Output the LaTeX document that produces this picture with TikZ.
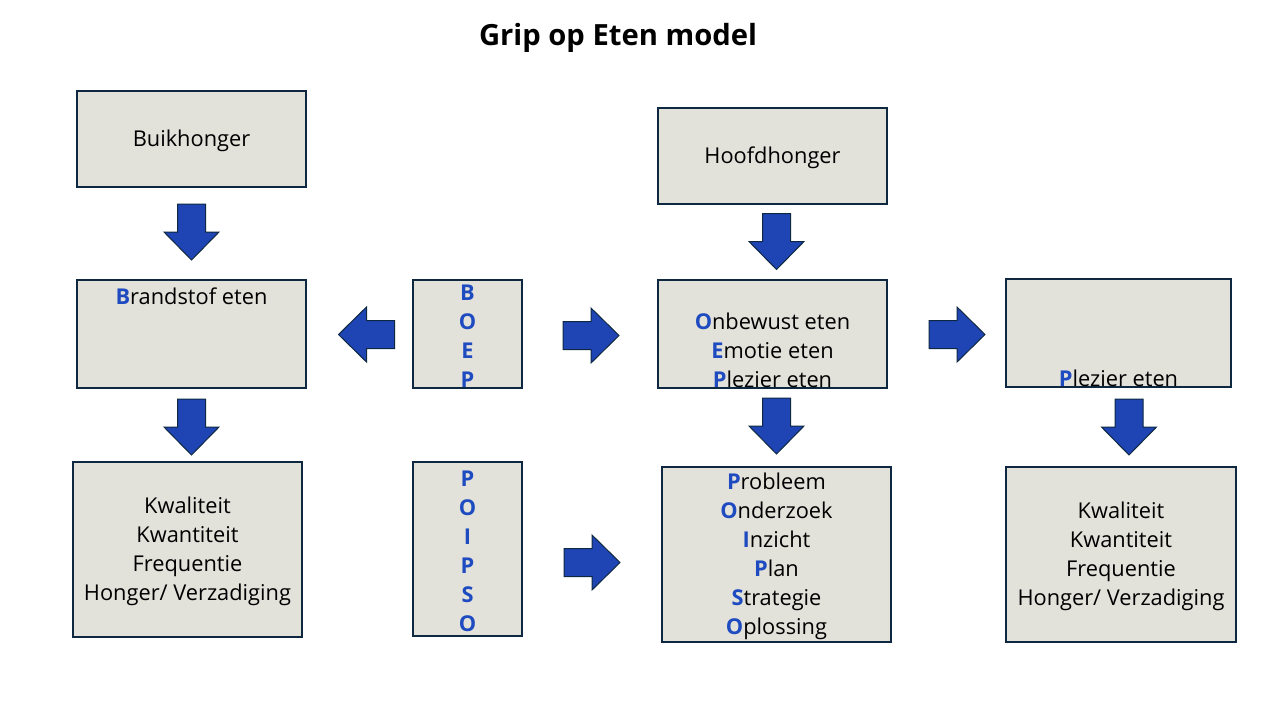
\documentclass[tikz,border=0pt]{standalone}
\usepackage{fontspec}
\setmainfont{Open Sans}
\definecolor{boxfill}{HTML}{E2E1DA}
\definecolor{boxline}{HTML}{0E2841}
\definecolor{pijlblauw}{HTML}{1F45B5}
\definecolor{letterblauw}{HTML}{1F4BC0}
\newcommand{\ini}[1]{\textcolor{letterblauw}{\textbf{#1}}}
\tikzset{
  blok/.style={draw=boxline,fill=boxfill,line width=1pt,inner sep=0pt},
  tekst/.style={align=center,font=\fontsize{10.9}{14.5}\selectfont,inner sep=0pt,yshift=-1pt},
  pijl/.style={draw=boxline,fill=pijlblauw,line width=0.5pt,line join=miter},
  blokpijl/.pic={
    \draw[pijl] (-14,-28) -- (14,-28) -- (14,0) -- (27.5,0) -- (0,28)
      -- (-27.5,0) -- (-14,0) -- cycle;
  }
}
\begin{document}
\begin{tikzpicture}[x=0.5pt,y=-0.5pt]
  \useasboundingbox (0,0) rectangle (1280,720);
  \node[tekst,font=\fontsize{14.6}{17}\selectfont\bfseries] (titel) at (618,36) {Grip op Eten model};

  % boxes
  \node[blok,minimum width=114.5pt,minimum height=48pt] (buik) at (191.5,139) {};
  \node[blok,minimum width=114.5pt,minimum height=48pt] (hoofd) at (772.5,156) {};
  \node[blok,minimum width=114.5pt,minimum height=54pt] (brand) at (191.5,334) {};
  \node[blok,minimum width=54.5pt,minimum height=54pt] (boep) at (467.5,334) {};
  \node[blok,minimum width=114.5pt,minimum height=54pt] (onbewust) at (772.5,334) {};
  \node[blok,minimum width=112.5pt,minimum height=54pt] (plezier) at (1118.5,333) {};
  \node[blok,minimum width=114.5pt,minimum height=87.5pt] (kwal) at (187.5,549.5) {};
  \node[blok,minimum width=54.5pt,minimum height=87pt] (poipso) at (467.5,549) {};
  \node[blok,minimum width=114.5pt,minimum height=87.5pt] (probleem) at (776.5,554.5) {};
  \node[blok,minimum width=115pt,minimum height=87.5pt] (kwaltwee) at (1121,554.5) {};

  % texts
  \node[tekst] at (buik) {Buikhonger};
  \node[tekst] at (hoofd) {Hoofdhonger};
  \node[tekst,anchor=north] at ([yshift=-3pt]brand.north) {\ini{B}randstof eten};
  \node[tekst] at (boep) {\ini{B}\\\ini{O}\\\ini{E}\\\ini{P}};
  \node[tekst,anchor=south] at ([yshift=1.5pt]onbewust.south) {\ini{O}nbewust eten\\\ini{E}motie eten\\\ini{P}lezier eten};
  \node[tekst,anchor=south] at ([yshift=1.5pt]plezier.south) {\ini{P}lezier eten};
  \node[tekst] at (kwal) {Kwaliteit\\Kwantiteit\\Frequentie\\Honger/ Verzadiging};
  \node[tekst] at (poipso) {\ini{P}\\\ini{O}\\\ini{I}\\\ini{P}\\\ini{S}\\\ini{O}};
  \node[tekst] at (probleem) {\ini{P}robleem\\\ini{O}nderzoek\\\ini{I}nzicht\\\ini{P}lan\\\ini{S}trategie\\\ini{O}plossing};
  \node[tekst] at (kwaltwee) {Kwaliteit\\Kwantiteit\\Frequentie\\Honger/ Verzadiging};

  % block arrows
  \pic at (191.5,232) {blokpijl};
  \pic at (776.5,241.5) {blokpijl};
  \pic[rotate=-90] at (366.5,334.5) {blokpijl};
  \pic[rotate=90] at (591,335.5) {blokpijl};
  \pic[rotate=90] at (957,334.5) {blokpijl};
  \pic at (191.5,427) {blokpijl};
  \pic at (776.5,426) {blokpijl};
  \pic at (1129,427) {blokpijl};
  \pic[rotate=90] at (592,562.5) {blokpijl};
\end{tikzpicture}
\end{document}
